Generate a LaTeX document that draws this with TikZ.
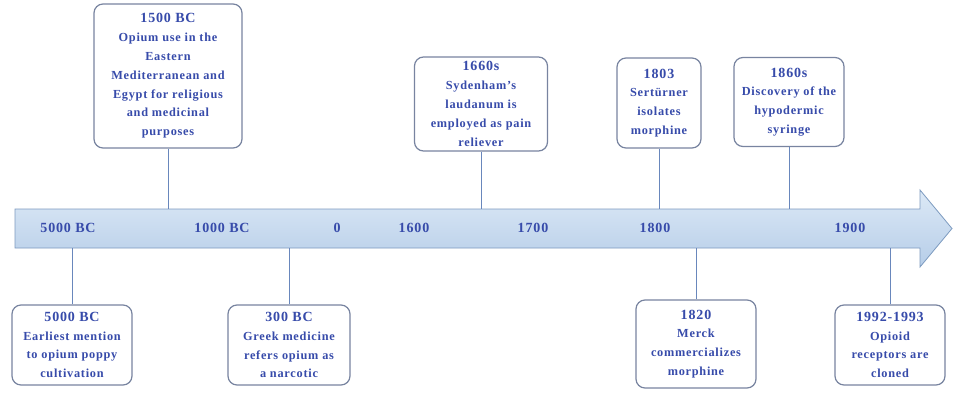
\documentclass[tikz,border=0pt]{standalone}
\usepackage{fontspec}
\setmainfont{Liberation Serif}[LetterSpace=6]
\definecolor{txtblue}{RGB}{55,75,170}
\definecolor{boxline}{RGB}{120,132,160}
\definecolor{conline}{RGB}{105,135,188}
\definecolor{arrtop}{RGB}{220,233,246}
\definecolor{arrbot}{RGB}{182,205,232}
\definecolor{arrline}{RGB}{125,155,192}
\begin{document}
\begin{tikzpicture}[x=1pt,y=-1pt,
  evbox/.style={draw=boxline, line width=1.2pt, rounded corners=9pt, fill=white,
    align=center, inner sep=2pt, text=txtblue,
    font=\fontsize{12.3}{18.8}\selectfont\bfseries},
  conn/.style={draw=conline, line width=1pt},
  axlab/.style={text=txtblue, font=\fontsize{14}{16}\selectfont\bfseries, anchor=center}]
\useasboundingbox (0,0) rectangle (954,394);
\fill[white] (0,0) rectangle (954,394);
\coordinate (atop) at (0,209);
\coordinate (abot) at (0,248);
% arrow
\shade[top color=arrtop, bottom color=arrbot, draw=arrline, line width=0.8pt]
  (15,209) -- (920,209) -- (920,190) -- (952,228.5) -- (920,267) -- (920,248) -- (15,248) -- cycle;
\node[axlab] (l5000) at (68,228) {5000 BC};
\node[axlab] (l1000) at (222,228) {1000 BC};
\node[axlab] (l0) at (337,228) {0};
\node[axlab] (l1600) at (414,228) {1600};
\node[axlab] (l1700) at (533,228) {1700};
\node[axlab] (l1800) at (655,228) {1800};
\node[axlab] (l1900) at (850,228) {1900};
% top boxes
\node[evbox, minimum width=148pt, minimum height=144pt] (b1500) at (168,76)
  {{\fontsize{14}{18}\selectfont 1500 BC}\\Opium use in the\\Eastern\\Mediterranean and\\Egypt for religious\\and medicinal\\purposes};
\node[evbox, minimum width=133pt, minimum height=94pt] (b1660) at (481,104)
  {{\fontsize{14}{18}\selectfont 1660s}\\Sydenham's\\laudanum is\\employed as pain\\reliever};
\node[evbox, minimum width=84pt, minimum height=90pt] (b1803) at (659,103)
  {{\fontsize{14}{18}\selectfont 1803}\\Sertürner\\isolates\\morphine};
\node[evbox, minimum width=110pt, minimum height=89pt] (b1860) at (789,102)
  {{\fontsize{14}{18}\selectfont 1860s}\\Discovery of the\\hypodermic\\syringe};
% bottom boxes
\node[evbox, minimum width=120pt, minimum height=80pt] (b5000) at (72,345)
  {{\fontsize{14}{18}\selectfont 5000 BC}\\Earliest mention\\to opium poppy\\cultivation};
\node[evbox, minimum width=122pt, minimum height=80pt] (b300) at (289,345)
  {{\fontsize{14}{18}\selectfont 300 BC}\\Greek medicine\\refers opium as\\a narcotic};
\node[evbox, minimum width=120pt, minimum height=88pt] (b1820) at (696,344)
  {{\fontsize{14}{18}\selectfont 1820}\\Merck\\commercializes\\morphine};
\node[evbox, minimum width=110pt, minimum height=80pt] (b1992) at (890,345)
  {{\fontsize{14}{18}\selectfont 1992-1993}\\Opioid\\receptors are\\cloned};
% connectors
\draw[conn] (b1500.south) -- (b1500.south |- atop);
\draw[conn] (b1660.south) -- (b1660.south |- atop);
\draw[conn] (b1803.south) -- (b1803.south |- atop);
\draw[conn] (b1860.south) -- (b1860.south |- atop);
\draw[conn] (b5000.north) -- (b5000.north |- abot);
\draw[conn] (b300.north) -- (b300.north |- abot);
\draw[conn] (b1820.north) -- (b1820.north |- abot);
\draw[conn] (b1992.north) -- (b1992.north |- abot);
\end{tikzpicture}
\end{document}
